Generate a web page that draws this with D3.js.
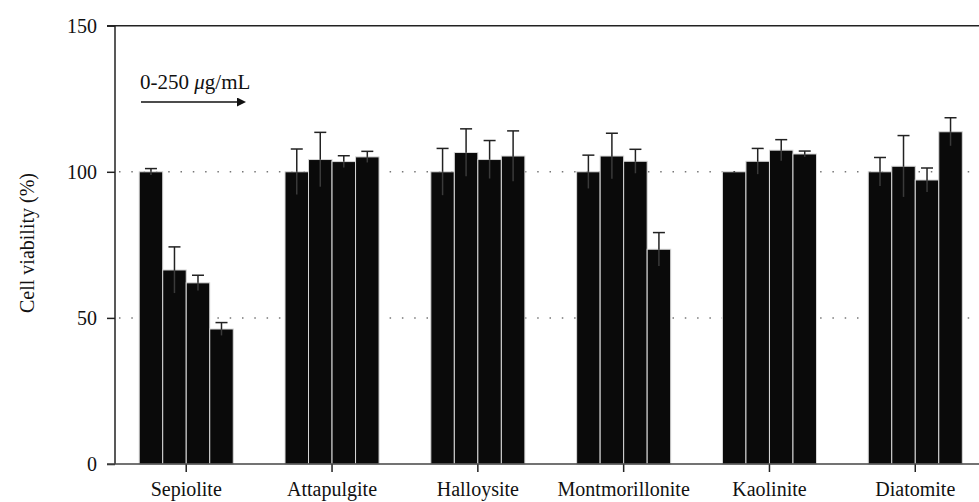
<!DOCTYPE html>
<html>
<head>
<meta charset="utf-8">
<script src="https://cdn.jsdelivr.net/npm/d3@7"></script>
<style>
  body { margin: 0; background: #fff; }
  svg text { font-family: "Liberation Serif", "Times New Roman", serif; fill: #111; }
</style>
</head>
<body>
<div id="chart"></div>
<script>
// clay minerals, 4 doses each (0-250 ug/mL)
const categories = ["Sepiolite", "Attapulgite", "Halloysite", "Montmorillonite", "Kaolinite", "Diatomite"]
const doses = ["d1", "d2", "d3", "d4"]
const viability = [
    [100, 66.4, 62.0, 46.2],
    [100, 104.2, 103.5, 105.1],
    [100, 106.6, 104.2, 105.4],
    [100, 105.4, 103.6, 73.5],
    [100, 103.6, 107.4, 106.1],
    [100, 101.9, 97.2, 113.7]
]
const viabilityErr = [
    [1.1, 7.9, 2.6, 2.2],
    [7.8, 9.3, 2.0, 1.9],
    [8.0, 8.1, 6.5, 8.6],
    [5.7, 7.8, 4.1, 5.7],
    [0.3, 4.4, 3.6, 1.0],
    [4.9, 10.5, 4.1, 4.8]
]
const yTicks = [0, 50, 100, 150]
const gridValues = [50, 100]

function drawChart(){
    let width = 979
    let height = 502
    let left = 115
    let bottom = 464
    let top = 25.7

    let svg = d3.select("#chart").html('')
      .append("svg")
      .attr("width", width)
      .attr("height", height)

    let defs = svg.append("defs")
    defs.append("marker")
      .attr("id", "arrow")
      .attr("viewBox", "0 0 10 10")
      .attr("refX", 0)
      .attr("refY", 5)
      .attr("markerWidth", 11)
      .attr("markerHeight", 9)
      .attr("markerUnits", "userSpaceOnUse")
      .attr("orient", "auto")
      .append("path")
      .attr("d", "M0,0 L10,5 L0,10 Z")
      .attr("fill", "#111")

    let y = d3.scaleLinear().domain([0, 150]).range([bottom, top])
    let x = d3.scaleBand()
      .domain(categories)
      .range([left, 986.5])
      .paddingInner(0.355)
      .paddingOuter(0.166)
    let xInner = d3.scaleBand().domain(doses).range([0, x.bandwidth()]).padding(0)

    // dotted grid
    svg.selectAll(".grid")
      .data(gridValues)
      .enter().append("line")
      .attr("class", "grid")
      .attr("x1", left + 4).attr("x2", width)
      .attr("y1", d => y(d)).attr("y2", d => y(d))
      .attr("stroke", "#777")
      .attr("stroke-width", 1.5)
      .attr("stroke-dasharray", "1.5,10.8")

    // bars
    let groups = svg.selectAll(".group")
      .data(categories)
      .enter().append("g")
      .attr("class", "group")
      .attr("transform", d => "translate(" + x(d) + ",0)")

    let barData = (d, i) => doses.map((k, j) => ({dose: k, v: viability[i][j], e: viabilityErr[i][j]}))

    groups.selectAll("rect")
      .data(barData)
      .enter().append("rect")
      .attr("x", d => xInner(d.dose))
      .attr("y", d => y(d.v))
      .attr("width", xInner.bandwidth())
      .attr("height", d => bottom - y(d.v))
      .attr("fill", "#0a0a0a")
      .attr("stroke", "#d8d8d8")
      .attr("stroke-width", 1)

    // error bars: whisker below is hidden in the bar, drawn grey
    let errs = groups.selectAll(".err")
      .data(barData)
      .enter().append("g")
      .attr("class", "err")
      .attr("transform", d => "translate(" + (xInner(d.dose) + xInner.bandwidth() / 2) + ",0)")
    errs.append("line")
      .attr("y1", d => y(d.v)).attr("y2", d => y(d.v - d.e))
      .attr("stroke", "#3a3a3a")
      .attr("stroke-width", 1.5)
    errs.append("line")
      .attr("y1", d => y(d.v + d.e)).attr("y2", d => y(d.v))
      .attr("stroke", "#222")
      .attr("stroke-width", 1.5)
    errs.filter(d => d.e > 0.6).append("line")
      .attr("x1", -6).attr("x2", 6)
      .attr("y1", d => y(d.v + d.e)).attr("y2", d => y(d.v + d.e))
      .attr("stroke", "#222")
      .attr("stroke-width", 1.5)

    // axes
    let yAxis = svg.append("g")
      .attr("transform", "translate(" + left + ",0)")
      .call(d3.axisLeft(y).tickValues(yTicks).tickSize(8).tickPadding(10))
    yAxis.select(".domain").remove()
    yAxis.selectAll("line").attr("stroke", "#222").attr("stroke-width", 1.5)
    yAxis.selectAll("text").style("font-size", "20px").attr("fill", "#111")

    let xAxis = svg.append("g")
      .attr("transform", "translate(0," + bottom + ")")
      .call(d3.axisBottom(x).tickSize(8).tickPadding(10))
    xAxis.select(".domain").remove()
    xAxis.selectAll("line").attr("stroke", "#222").attr("stroke-width", 1.5)
    xAxis.selectAll("text").style("font-size", "20px").attr("fill", "#111")

    // frame lines
    svg.append("line")
      .attr("x1", left).attr("x2", left).attr("y1", top).attr("y2", bottom)
      .attr("stroke", "#222").attr("stroke-width", 1.5)
    svg.append("line")
      .attr("x1", left - 8).attr("x2", width).attr("y1", bottom).attr("y2", bottom)
      .attr("stroke", "#444").attr("stroke-width", 1.5)
    svg.append("line")
      .attr("x1", left - 8).attr("x2", width).attr("y1", top).attr("y2", top)
      .attr("stroke", "#222").attr("stroke-width", 1.5)

    // y title
    svg.append("text")
      .attr("transform", "translate(34,243) rotate(-90)")
      .attr("text-anchor", "middle")
      .style("font-size", "20px")
      .text("Cell viability (%)")

    // dose annotation
    let note = svg.append("text")
      .attr("x", 140)
      .attr("y", 89)
      .style("font-size", "21px")
    note.append("tspan").text("0-250 ")
    note.append("tspan").style("font-style", "italic").text("\u03bc")
    note.append("tspan").text("g/mL")
    svg.append("line")
      .attr("x1", 141).attr("x2", 237)
      .attr("y1", 102).attr("y2", 102)
      .attr("stroke", "#111")
      .attr("stroke-width", 1.5)
      .attr("marker-end", "url(#arrow)")
}

drawChart()
</script>
</body>
</html>
